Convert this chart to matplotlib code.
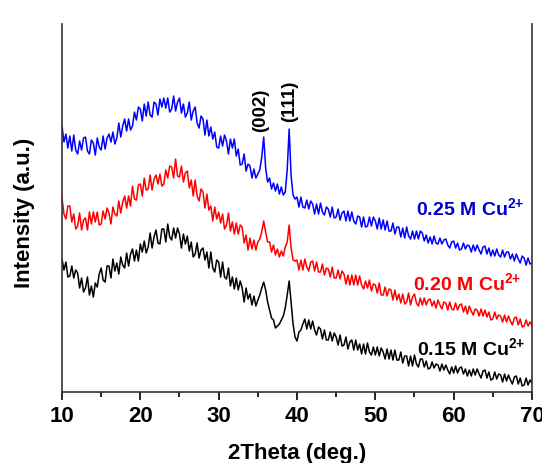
import numpy as np
import matplotlib
matplotlib.use("Agg")
import matplotlib.pyplot as plt
from matplotlib.ticker import MultipleLocator

plt.rcParams['font.family'] = ['Liberation Sans', 'DejaVu Sans']
plt.rcParams['mathtext.fontset'] = 'custom'
plt.rcParams['mathtext.bf'] = 'Liberation Sans:bold'
plt.rcParams['mathtext.rm'] = 'Liberation Sans:bold'
plt.rcParams['mathtext.default'] = 'bf'

# 2theta grid, 0.25 deg steps from 10 to 70
two_theta = np.arange(241) * 0.25 + 10.0

# intensities (a.u., already offset per sample)
blue_025 = [
    266, 250, 258, 244, 256, 241, 257, 242, 238, 251, 242, 254, 255, 241, 238, 252,
    249, 237, 254, 245, 242, 256, 243, 254, 258, 250, 260, 248, 254, 269, 255, 266,
    273, 261, 273, 262, 266, 280, 272, 285, 283, 271, 288, 276, 290, 277, 275, 290,
    288, 277, 293, 285, 294, 284, 294, 280, 283, 296, 281, 290, 294, 279, 288, 275,
    279, 290, 272, 281, 285, 269, 264, 276, 273, 257, 272, 256, 265, 253, 260, 245,
    244, 256, 246, 257, 251, 238, 253, 244, 253, 236, 243, 227, 228, 238, 221, 228,
    226, 214, 223, 214, 218, 222, 235, 255, 224, 210, 214, 203, 209, 201, 208, 198,
    205, 197, 200, 222, 263, 216, 197, 193, 195, 185, 195, 185, 184, 192, 183, 191,
    188, 178, 188, 178, 189, 180, 177, 185, 183, 175, 185, 174, 175, 183, 172, 179,
    181, 171, 181, 171, 180, 171, 168, 176, 175, 165, 175, 165, 166, 175, 166, 175,
    171, 163, 174, 163, 172, 162, 171, 161, 161, 169, 158, 165, 165, 155, 164, 154,
    165, 156, 153, 161, 153, 161, 153, 161, 159, 151, 157, 149, 155, 148, 156, 149,
    148, 154, 148, 152, 153, 147, 144, 150, 151, 144, 149, 142, 143, 149, 143, 147,
    146, 140, 147, 141, 147, 142, 138, 145, 146, 138, 144, 136, 142, 136, 143, 137,
    135, 142, 135, 140, 140, 133, 138, 131, 138, 133, 129, 136, 134, 127, 134, 128,
    129]

red_020 = [
    194, 178, 173, 186, 186, 170, 178, 163, 166, 179, 162, 172, 174, 162, 180, 168,
    180, 170, 180, 167, 168, 181, 173, 184, 179, 168, 185, 178, 176, 191, 179, 190,
    196, 184, 196, 186, 206, 193, 192, 207, 208, 196, 214, 202, 203, 217, 202, 213,
    217, 208, 218, 206, 208, 222, 214, 226, 225, 214, 233, 216, 215, 226, 210, 219,
    221, 204, 212, 196, 212, 196, 191, 203, 200, 184, 198, 182, 186, 171, 185, 173,
    180, 169, 178, 163, 167, 179, 161, 170, 158, 169, 158, 167, 165, 149, 157, 142,
    154, 143, 152, 142, 150, 153, 160, 171, 160, 150, 150, 140, 147, 137, 143, 135,
    141, 136, 145, 150, 167, 144, 132, 131, 132, 122, 132, 122, 133, 125, 121, 130,
    131, 121, 130, 120, 120, 128, 117, 124, 123, 115, 125, 114, 114, 122, 113, 121,
    118, 108, 117, 107, 117, 107, 117, 107, 116, 107, 103, 111, 104, 112, 101, 108,
    107, 99, 109, 97, 97, 105, 96, 103, 102, 92, 102, 92, 98, 89, 98, 88,
    90, 99, 87, 95, 98, 89, 86, 94, 87, 94, 87, 92, 93, 86, 91, 84,
    92, 87, 83, 90, 89, 82, 90, 83, 82, 89, 82, 87, 88, 80, 86, 78,
    86, 81, 77, 83, 82, 76, 83, 76, 82, 75, 80, 72, 73, 80, 73, 77,
    76, 70, 77, 70, 76, 71, 67, 74, 75, 67, 73, 65, 66, 72, 66, 70,
    67]

black_015 = [
    133, 122, 130, 115, 116, 126, 114, 122, 119, 104, 114, 100, 104, 115, 97, 106,
    95, 109, 105, 118, 124, 112, 110, 126, 126, 114, 133, 121, 129, 118, 135, 127,
    124, 139, 126, 138, 143, 131, 142, 131, 148, 140, 151, 139, 145, 159, 144, 155,
    162, 149, 148, 163, 163, 150, 168, 155, 152, 164, 154, 164, 158, 144, 158, 148,
    156, 141, 150, 135, 138, 149, 134, 142, 144, 132, 140, 124, 140, 124, 120, 132,
    130, 115, 130, 115, 113, 124, 106, 115, 103, 114, 102, 111, 104, 90, 104, 93,
    98, 87, 96, 86, 92, 97, 104, 110, 102, 90, 82, 74, 72, 64, 66, 68,
    72, 76, 84, 97, 111, 90, 68, 55, 51, 60, 62, 68, 73, 63, 72, 63,
    71, 62, 57, 65, 63, 53, 62, 52, 52, 60, 51, 59, 55, 47, 57, 46,
    47, 55, 43, 50, 52, 42, 52, 42, 48, 38, 48, 38, 49, 40, 37, 45,
    37, 45, 36, 44, 40, 33, 43, 33, 42, 32, 42, 32, 32, 40, 29, 36,
    36, 26, 36, 26, 37, 28, 25, 33, 33, 25, 31, 23, 24, 30, 24, 28,
    27, 21, 28, 22, 27, 22, 18, 25, 19, 26, 19, 24, 25, 18, 23, 16,
    22, 16, 23, 17, 23, 18, 14, 21, 22, 14, 20, 12, 13, 20, 13, 18,
    17, 10, 18, 11, 17, 12, 8, 15, 16, 8, 14, 6, 7, 14, 7, 12,
    9]

sample_labels = ['0.25 M Cu$^{2{+}}$', '0.20 M Cu$^{2{+}}$', '0.15 M Cu$^{2{+}}$']
peak_labels = ['(002)', '(111)']

fig = plt.figure(figsize=(5.42, 4.64), dpi=100)
ax = fig.add_axes([0.1144, 0.153, 0.8671, 0.793])

ax.plot(two_theta, blue_025, color='#0000ff', lw=1.1)
ax.plot(two_theta, red_020, color='#ff0000', lw=1.1)
ax.plot(two_theta, black_015, color='black', lw=1.1)

ax.set_xlim(10, 70)
ax.set_ylim(0, 368)
ax.set_yticks([])
ax.xaxis.set_major_locator(MultipleLocator(10))
ax.xaxis.set_minor_locator(MultipleLocator(5))
ax.tick_params(axis='x', which='major', direction='out', length=6, width=1.2,
               labelsize=16, pad=3)
ax.tick_params(axis='x', which='minor', direction='out', length=3.5, width=1.2)
for lab in ax.get_xticklabels():
    lab.set_fontweight('bold')
ax.spines['top'].set_visible(False)
for s in ['left', 'right', 'bottom']:
    ax.spines[s].set_linewidth(1.2)
    ax.spines[s].set_color('#333333')

ax.set_xlabel('2Theta (deg.)', fontsize=16, fontweight='bold')
ax.xaxis.set_label_coords(0.5, -0.135)
ax.set_ylabel('Intensity (a.u.)', fontsize=16, fontweight='bold')
ax.yaxis.set_label_coords(-0.058, 0.49)

# sample names at right
ax.text(55.2, 185, sample_labels[0], color='#0000cc', fontsize=14, fontweight='bold', va='center')
ax.text(54.8, 110, sample_labels[1], color='#ff0000', fontsize=14, fontweight='bold', va='center')
ax.text(55.3, 45, sample_labels[2], color='black', fontsize=14, fontweight='bold', va='center')

# peak indices
ax.text(35.4, 283, peak_labels[0], rotation=90, fontsize=13.5, fontweight='bold',
        ha='center', va='center')
ax.text(39.05, 292, peak_labels[1], rotation=90, fontsize=13.5, fontweight='bold',
        ha='center', va='center')

fig.savefig('out.png', dpi=100)
